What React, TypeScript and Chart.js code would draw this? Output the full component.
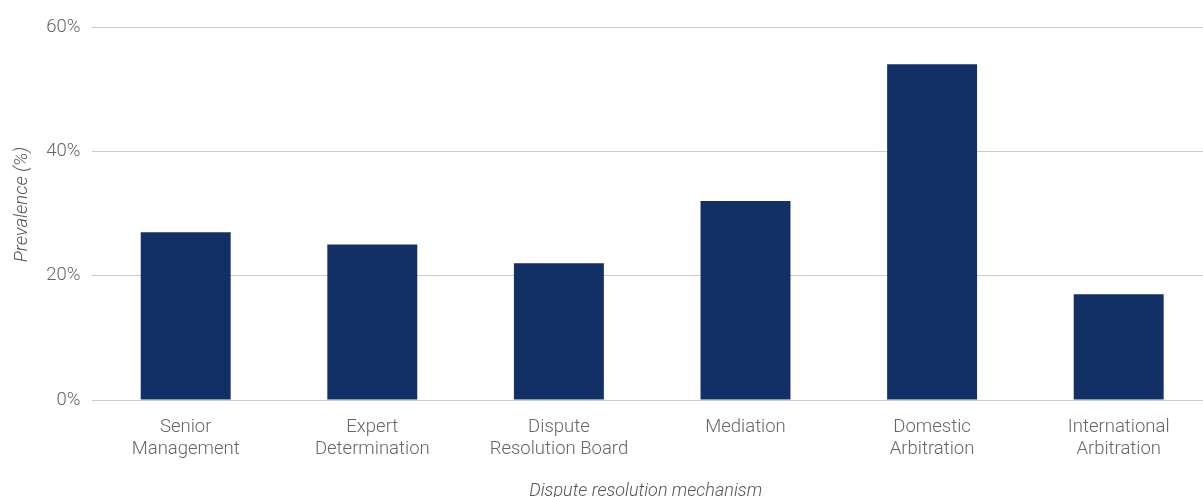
import React, { useEffect, useRef } from "react";
import { Chart, registerables } from "chart.js";

Chart.register(...registerables);

const categories: (string | string[])[] = [
  ["Senior", "Management"],
  ["Expert", "Determination"],
  ["Dispute", "Resolution Board"],
  "Mediation",
  ["Domestic", "Arbitration"],
  ["International", "Arbitration"],
];
const prevalence = [27, 25, 22, 32, 54, 17];
const yTicks = [0, 20, 40, 60];

export default function App() {
  const ref = useRef<HTMLCanvasElement>(null);
  useEffect(() => {
    const font = "Roboto";
    const chart = new Chart(ref.current!, {
      type: "bar",
      data: {
        labels: categories,
        datasets: [
          {
            data: prevalence,
            backgroundColor: "#133066",
            barPercentage: 0.482,
            categoryPercentage: 1,
          },
        ],
      },
      options: {
        animation: false,
        responsive: false,
        maintainAspectRatio: false,
        layout: { padding: { top: 27, right: 0, bottom: -5, left: 11 } },
        plugins: { legend: { display: false }, tooltip: { enabled: false } },
        scales: {
          x: {
            grid: { display: false, drawTicks: false },
            border: { display: false },
            ticks: {
              color: "#666666",
              font: { family: font, size: 18.5, weight: 300 },
              padding: 16,
              maxRotation: 0,
            },
            title: {
              display: true,
              text: "Dispute resolution mechanism   ",
              color: "#555555",
              font: { family: font, size: 18, style: "italic", weight: 300 },
              padding: { top: 4, bottom: 0 },
            },
          },
          y: {
            min: 0,
            max: 60,
            afterBuildTicks: (axis: any) => {
              axis.ticks = yTicks.map((v) => ({ value: v }));
            },
            grid: { color: "#cccccc", drawTicks: false, lineWidth: 1 },
            border: { display: false },
            ticks: {
              color: "#666666",
              font: { family: font, size: 18.5, weight: 300 },
              padding: 12,
              callback: (v: any) => v + "%",
            },
            title: {
              display: true,
              text: "    Prevalence (%)",
              color: "#555555",
              font: { family: font, size: 18.5, style: "italic", weight: 300 },
              padding: { top: 0, bottom: 1 },
            },
          },
        },
      },
    });
    return () => chart.destroy();
  }, []);
  return (
    <div style={{ position: "fixed", left: 0, top: 0, width: 1203, height: 497, overflow: "hidden", background: "#fff" }}>
      <canvas ref={ref} width={1212} height={497} style={{ width: 1212, height: 497, display: "block" }} />
    </div>
  );
}
